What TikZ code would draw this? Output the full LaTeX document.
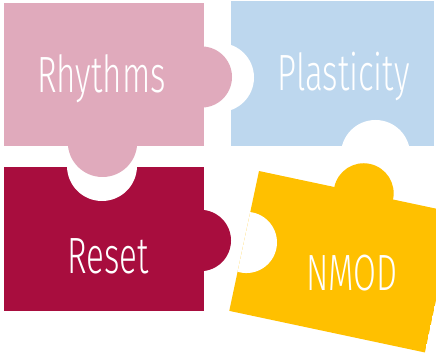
\documentclass[tikz,border=0pt]{standalone}
\usepackage{fontspec}
\newfontfamily\piecefont[FakeStretch=0.65]{Fira Sans Light}
\definecolor{rhypink}{HTML}{E0AABC}
\definecolor{plablue}{HTML}{BDD7EE}
\definecolor{resred}{HTML}{A80D3E}
\definecolor{nmodgold}{HTML}{FFC000}
\tikzset{
  body/.style={fill=#1, draw=none},
  knob/.style={fill=#1, draw=none},
  hole/.style={fill=white, draw=none},
  word/.style={font=\piecefont\fontsize{51}{51}\selectfont, text=white, anchor=base, inner sep=0pt},
}

\begin{document}
\begin{tikzpicture}[x=1pt,y=-1pt]
  \clip (0,0) rectangle (436,355);
  \fill[white] (0,0) rectangle (436,355);
  % bodies, with their holes cut inside
  \fill[body=rhypink] (4,3) rectangle (204,146);
  \begin{scope}
    \clip (231,1) rectangle (434,146);
    \fill[body=plablue] (231,1) rectangle (434,146);
    \fill[hole] (219.5,77.5) circle[radius=34.5];
    \fill[hole] (375.5,154.6) circle[radius=34.6];
  \end{scope}
  \begin{scope}
    \clip (4,167) rectangle (204,311);
    \fill[body=resred] (4,167) rectangle (204,311);
    \fill[hole] (102,166) circle[radius=35];
  \end{scope}
  \begin{scope}[shift={(259,171)}, rotate=-12]
    \clip (0,0) rectangle (200,143);
    \fill[body=nmodgold] (0,0) rectangle (200,143);
    \fill[hole] (2.5,72.5) circle[radius=30.6];
  \end{scope}
  % knobs
  \fill[knob=rhypink] (201.4,77) circle[radius=30.6];
  \fill[knob=rhypink] (102.5,142.3) circle[radius=34.7];
  \fill[knob=resred] (200.3,240.5) circle[radius=30.7];
  \fill[knob=nmodgold, shift={(259,171)}, rotate=-12] (107,0) circle[radius=30];
  % words
  \node[word] (rhythms) at (101.5,93) {Rhythms};
  \node[word] (plasticity) at (343.5,91) {Plasticity};
  \node[word] (reset) at (108,273) {Reset};
  \node[word] (nmod) at (352,290) {NMOD};
\end{tikzpicture}
\end{document}
